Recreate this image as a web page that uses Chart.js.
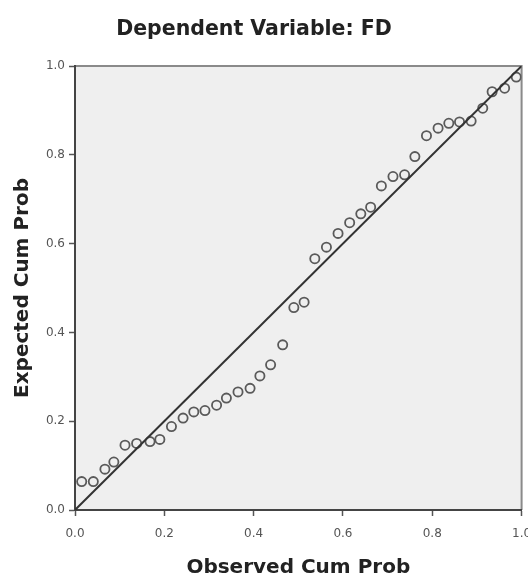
<!DOCTYPE html>
<html>
<head>
<meta charset="utf-8">
<script src="https://cdn.jsdelivr.net/npm/chart.js@4"></script>
<style>
  html, body { margin: 0; padding: 0; background: #fff; overflow: hidden; }
</style>
</head>
<body>
<canvas id="ppPlot" width="528" height="581"></canvas>
<script>
// observed vs expected cumulative probability
var observed = [0.015, 0.041, 0.067, 0.087, 0.112, 0.138, 0.168, 0.190, 0.216, 0.242,
                0.266, 0.291, 0.317, 0.339, 0.365, 0.392, 0.414, 0.438, 0.465, 0.490,
                0.513, 0.537, 0.563, 0.589, 0.615, 0.640, 0.662, 0.686, 0.712, 0.738,
                0.761, 0.787, 0.813, 0.837, 0.861, 0.887, 0.913, 0.934, 0.962, 0.988];
var expected = [0.064, 0.064, 0.092, 0.108, 0.146, 0.150, 0.154, 0.159, 0.188, 0.207,
                0.221, 0.224, 0.236, 0.252, 0.266, 0.274, 0.302, 0.327, 0.372, 0.456,
                0.468, 0.566, 0.592, 0.623, 0.647, 0.667, 0.682, 0.730, 0.751, 0.755,
                0.796, 0.843, 0.860, 0.871, 0.874, 0.876, 0.905, 0.942, 0.950, 0.975];
var refLine = [0, 1];
var tickLabels = ['0.0', '0.2', '0.4', '0.6', '0.8', '1.0'];

var points = observed.map(function (v, i) { return { x: v, y: expected[i] }; });
var diag = refLine.map(function (v) { return { x: v, y: v }; });

// grey panel behind the points + thin frame on top/right
var panel = {
  id: 'panel',
  beforeDraw(chart) {
    const { ctx, chartArea: { left, top, width, height } } = chart;
    ctx.save();
    ctx.fillStyle = '#efefef';
    ctx.fillRect(left, top, width, height);
    ctx.strokeStyle = '#8a8a8a';
    ctx.lineWidth = 2;
    ctx.beginPath();
    ctx.moveTo(left, top);
    ctx.lineTo(left + width, top);
    ctx.lineTo(left + width, top + height);
    ctx.stroke();
    ctx.restore();
  }
};

// heading, a bit left of centre like the original
var heading = {
  id: 'heading',
  afterDraw(chart) {
    const ctx = chart.ctx;
    ctx.save();
    ctx.font = 'bold 20.5px "DejaVu Sans"';
    ctx.fillStyle = '#222';
    ctx.textAlign = 'center';
    ctx.textBaseline = 'middle';
    ctx.fillText('Dependent Variable: FD', 254, 30);
    ctx.restore();
  }
};

var tickFont = { family: 'DejaVu Sans', size: 12 };
var titleFont = { family: 'DejaVu Sans', size: 20, weight: 'bold' };

new Chart(document.getElementById('ppPlot'), {
  type: 'scatter',
  data: {
    datasets: [{
      type: 'line',
      data: diag,
      borderColor: '#333',
      borderWidth: 2,
      pointRadius: 0,
      fill: false
    }, {
      data: points,
      pointRadius: 4.6,
      pointBorderWidth: 1.8,
      pointBorderColor: '#5a5a5a',
      pointBackgroundColor: 'rgba(0,0,0,0)'
    }]
  },
  options: {
    responsive: false,
    animation: false,
    layout: { padding: { top: 66, right: 6, bottom: 0, left: 0 } },
    plugins: {
      legend: { display: false },
      tooltip: { enabled: false }
    },
    scales: {
      x: {
        type: 'linear',
        min: 0, max: 1,
        afterFit: function (scale) { scale.height = 71; scale.paddingRight = 0; scale.paddingLeft = 0; },
        afterBuildTicks: function (scale) { scale.ticks = tickLabels.map(function (t) { return { value: parseFloat(t) }; }); },
        ticks: {
          font: tickFont, color: '#555', padding: 11,
          maxRotation: 0,
          callback: function (v) { return v.toFixed(1); }
        },
        grid: { drawOnChartArea: false, drawTicks: true, tickLength: 6, tickWidth: 1.5, color: '#555' },
        border: { display: true, color: '#444', width: 2 },
        title: { display: true, text: 'Observed Cum Prob', font: titleFont, color: '#222', padding: { top: 0, bottom: 1 } }
      },
      y: {
        type: 'linear',
        min: 0, max: 1,
        afterFit: function (scale) { scale.width = 75; },
        afterBuildTicks: function (scale) { scale.ticks = tickLabels.map(function (t) { return { value: parseFloat(t) }; }); },
        ticks: {
          font: tickFont, color: '#555', padding: 4,
          callback: function (v) { return v.toFixed(1); }
        },
        grid: { drawOnChartArea: false, drawTicks: true, tickLength: 6, tickWidth: 1.5, color: '#555' },
        border: { display: true, color: '#444', width: 2 },
        title: { display: true, text: 'Expected Cum Prob', font: titleFont, color: '#222', padding: { top: 11, bottom: 0 } }
      }
    }
  },
  plugins: [panel, heading]
});
</script>
</body>
</html>
